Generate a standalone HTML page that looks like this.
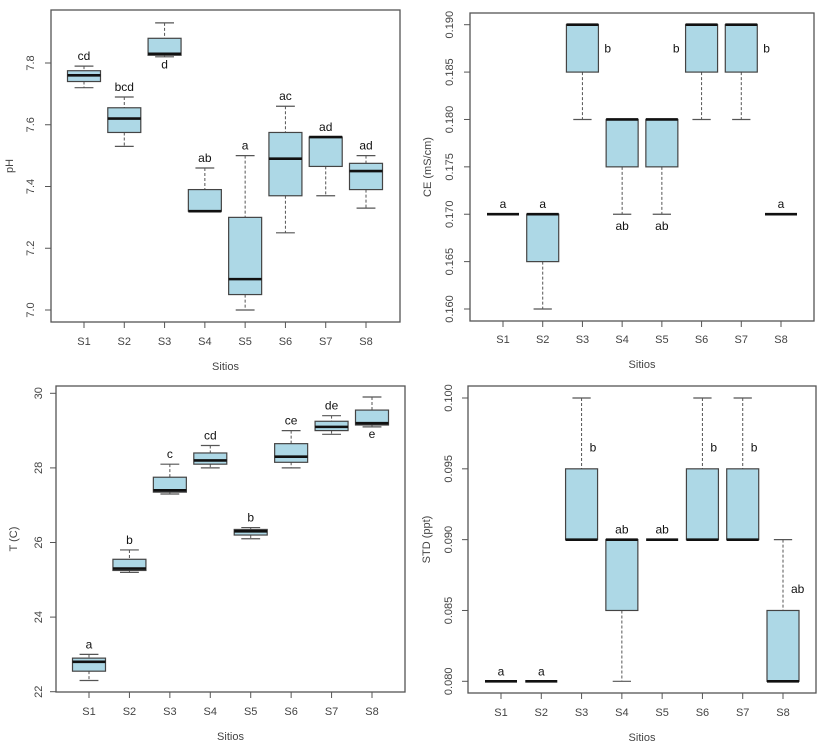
<!DOCTYPE html>
<html><head><meta charset="utf-8">
<style>
body{margin:0;background:#fff;}
svg{display:block;font-family:"Liberation Sans",Arial,sans-serif;}
</style></head>
<body>
<svg id="chart" width="833" height="747" viewBox="0 0 833 747"></svg>
<script>
const categories = ["S1","S2","S3","S4","S5","S6","S7","S8"];
// [min, q1, median, q3, max]
const phValues = [[7.72,7.74,7.76,7.775,7.79],[7.53,7.575,7.62,7.655,7.69],[7.82,7.825,7.83,7.88,7.93],[7.32,7.32,7.32,7.39,7.46],[7.0,7.05,7.1,7.3,7.5],[7.25,7.37,7.49,7.575,7.66],[7.37,7.465,7.56,7.56,7.56],[7.33,7.39,7.45,7.475,7.5]];
const phLetters = ["cd","bcd","d","ab","a","ac","ad","ad"];
const phTicks = [7.0,7.2,7.4,7.6,7.8];
const ceValues = [[0.17,0.17,0.17,0.17,0.17],[0.16,0.165,0.17,0.17,0.17],[0.18,0.185,0.19,0.19,0.19],[0.17,0.175,0.18,0.18,0.18],[0.17,0.175,0.18,0.18,0.18],[0.18,0.185,0.19,0.19,0.19],[0.18,0.185,0.19,0.19,0.19],[0.17,0.17,0.17,0.17,0.17]];
const ceLetters = ["a","a","b","ab","ab","b","b","a"];
const ceTicks = [0.160,0.165,0.170,0.175,0.180,0.185,0.190];
const tValues = [[22.3,22.55,22.8,22.9,23.0],[25.2,25.25,25.3,25.55,25.8],[27.3,27.35,27.4,27.75,28.1],[28.0,28.1,28.2,28.4,28.6],[26.1,26.2,26.3,26.35,26.4],[28.0,28.15,28.3,28.65,29.0],[28.9,29.0,29.1,29.25,29.4],[29.1,29.15,29.2,29.55,29.9]];
const tLetters = ["a","b","c","cd","b","ce","de","e"];
const tTicks = [22,24,26,28,30];
const stdValues = [[0.08,0.08,0.08,0.08,0.08],[0.08,0.08,0.08,0.08,0.08],[0.09,0.09,0.09,0.095,0.1],[0.08,0.085,0.09,0.09,0.09],[0.09,0.09,0.09,0.09,0.09],[0.09,0.09,0.09,0.095,0.1],[0.09,0.09,0.09,0.095,0.1],[0.08,0.08,0.08,0.085,0.09]];
const stdLetters = ["a","a","b","ab","ab","b","b","ab"];
const stdTicks = [0.080,0.085,0.090,0.095,0.100];

const NS="http://www.w3.org/2000/svg";
const svg=document.getElementById('chart');
function el(tag,attrs,parent,text){const e=document.createElementNS(NS,tag);for(const k in attrs)e.setAttribute(k,attrs[k]);if(text!==undefined)e.textContent=text;(parent||svg).appendChild(e);return e;}

function panel(cfg){
  const g=el('g',{});
  
  
  const y=v=>cfg.yTop+(cfg.vTop-v)/(cfg.vTop-cfg.vBot)*(cfg.yBot-cfg.yTop);
  const x=i=>cfg.x0+i*(cfg.x1-cfg.x0)/(categories.length-1);
  const f=el('rect',{x:cfg.fx0,y:cfg.fy0,width:cfg.fx1-cfg.fx0,height:cfg.fy1-cfg.fy0,fill:'none',stroke:'#555','stroke-width':1.3},g);
  
  cfg.ticks.forEach(t=>{
    const yy=y(t);
    el('line',{x1:cfg.fx0-6,x2:cfg.fx0,y1:yy,y2:yy,stroke:'#555'},g);
    const tx=el('text',{x:cfg.tickX,y:yy,'font-size':11,fill:'#444','text-anchor':'middle',transform:`rotate(-90 ${cfg.tickX} ${yy})`},g,cfg.fmt(t));
    
  });
  const yl=el('text',{x:cfg.ylX,y:(cfg.fy0+cfg.fy1)/2,'font-size':11,fill:'#444','text-anchor':'middle',transform:`rotate(-90 ${cfg.ylX} ${(cfg.fy0+cfg.fy1)/2})`},g,cfg.ylabel);
  
  const xl=el('text',{x:(cfg.fx0+cfg.fx1)/2,y:cfg.xTitleY,'font-size':11,fill:'#444','text-anchor':'middle'},g,'Sitios');
  
  const bw=cfg.bw;
  categories.forEach((c,i)=>{
    const cx=x(i), d=cfg.values[i];
    el('line',{x1:cx,x2:cx,y1:cfg.fy1,y2:cfg.fy1+6,stroke:'#555'},g);
    const tl=el('text',{x:cx,y:cfg.xLabY,'font-size':11,fill:'#444','text-anchor':'middle'},g,c);
    
    const bg=el('g',{},g);
    
    
    const ds={stroke:'#555','stroke-width':1,'stroke-dasharray':'3,2'};
    if(d[4]>d[3]) el('line',Object.assign({x1:cx,x2:cx,y1:y(d[4]),y2:y(d[3])},ds),bg);
    if(d[1]>d[0]) el('line',Object.assign({x1:cx,x2:cx,y1:y(d[1]),y2:y(d[0])},ds),bg);
    if(d[4]>d[3]) el('line',{x1:cx-bw/3.5,x2:cx+bw/3.5,y1:y(d[4]),y2:y(d[4]),stroke:'#555','stroke-width':1.2},bg);
    if(d[1]>d[0]) el('line',{x1:cx-bw/3.5,x2:cx+bw/3.5,y1:y(d[0]),y2:y(d[0]),stroke:'#555','stroke-width':1.2},bg);
    if(d[3]>d[1]) el('rect',{x:cx-bw/2,y:y(d[3]),width:bw,height:y(d[1])-y(d[3]),fill:'#add8e6',stroke:'#444','stroke-width':1.2},bg);
    el('line',{x1:cx-bw/2,x2:cx+bw/2,y1:y(d[2]),y2:y(d[2]),stroke:'#111','stroke-width':2.6},bg);
    const p=cfg.place[i]; let lx=cx, ly, anchor='middle';
    if(p==='above'){ly=y(d[4])-6;}
    else if(p==='below'){ly=y(d[0])+16;}
    else if(p==='belowbox'){ly=y(d[1])+13;}
    else if(p==='right'){lx=cx+bw/2+6;ly=y(cfg.lpos[i])+4;anchor='start';}
    else if(p==='whisker'){lx=cx+8;ly=y(cfg.lpos[i])+4;anchor='start';}
    else {lx=cx-bw/2-6;ly=y(cfg.lpos[i])+4;anchor='end';}
    const lt=el('text',{x:lx,y:ly,'font-size':12,fill:'#111','text-anchor':anchor},bg,cfg.letters[i]);
    
  });
}
panel({name:'ph-panel',values:phValues,letters:phLetters,ticks:phTicks,fmt:t=>t.toFixed(1),ylabel:'pH',
  fx0:51,fx1:400,fy0:10,fy1:322,vTop:7.8,vBot:7.0,yTop:63,yBot:310,x0:84,x1:366,bw:33,
  tickX:34,ylX:13,xLabY:345,xTitleY:370,
  place:['above','above','belowbox','above','above','above','above','above'],lpos:[]});
panel({name:'ce-panel',values:ceValues,letters:ceLetters,ticks:ceTicks,fmt:t=>t.toFixed(3),ylabel:'CE (mS/cm)',
  fx0:470,fx1:814,fy0:13,fy1:321,vTop:0.19,vBot:0.16,yTop:24.7,yBot:309,x0:503,x1:781,bw:32,
  tickX:453,ylX:431,xLabY:343,xTitleY:368,
  place:['above','above','right','below','below','left','right','above'],lpos:[0,0,0.1875,0,0,0.1875,0.1875,0]});
panel({name:'temperature-panel',values:tValues,letters:tLetters,ticks:tTicks,fmt:t=>String(t),ylabel:'T (C)',
  fx0:56,fx1:405,fy0:386,fy1:692,vTop:30,vBot:22,yTop:393.3,yBot:691.7,x0:89,x1:372,bw:33,
  tickX:42,ylX:17,xLabY:715,xTitleY:740,
  place:['above','above','above','above','above','above','above','belowbox'],lpos:[]});
panel({name:'std-panel',values:stdValues,letters:stdLetters,ticks:stdTicks,fmt:t=>t.toFixed(3),ylabel:'STD (ppt)',
  fx0:468,fx1:816,fy0:386,fy1:693,vTop:0.1,vBot:0.08,yTop:398,yBot:681.3,x0:501,x1:783,bw:32,
  tickX:452,ylX:430,xLabY:716,xTitleY:741,
  place:['above','above','whisker','above','above','whisker','whisker','whisker'],lpos:[0,0,0.0965,0,0,0.0965,0.0965,0.0865]});
</script>
</body></html>
